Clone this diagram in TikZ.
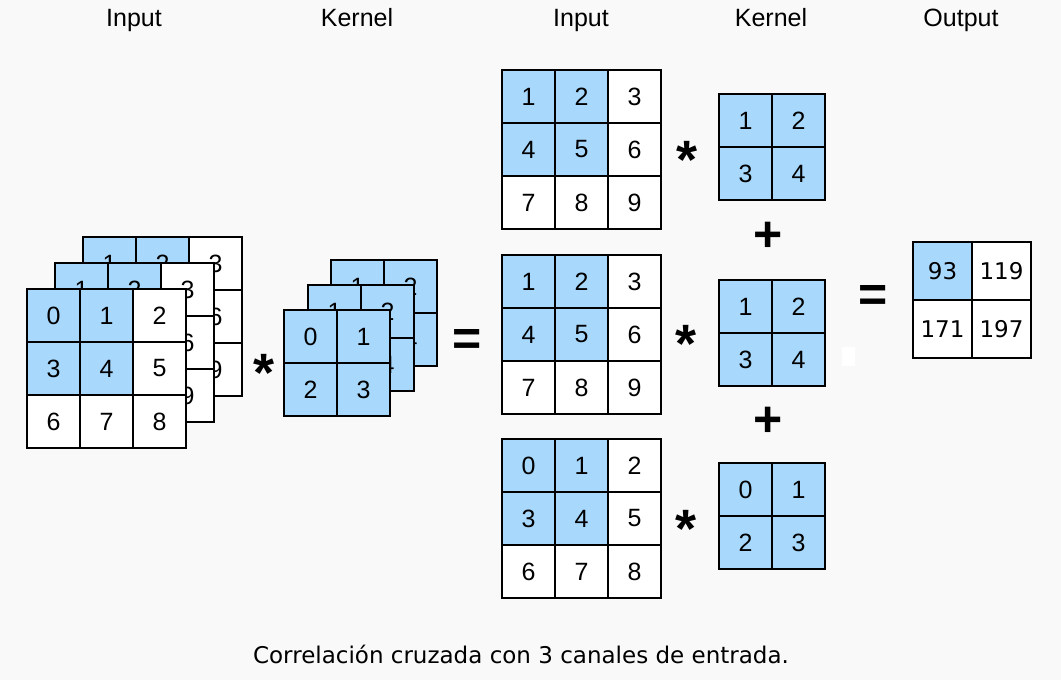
\documentclass[tikz,border=0pt]{standalone}
\usepackage{fontspec}
\setmainfont{Liberation Sans}
\newfontfamily\capfont{DejaVu Sans}
\definecolor{cellblue}{RGB}{168,216,252}
\definecolor{bgc}{RGB}{249,249,249}
\newcommand{\cellgrid}[8]{%
 \foreach \v [count=\i from 0] in {#8} {%
   \pgfmathtruncatemacro\rr{floor(\i/#4)}%
   \pgfmathtruncatemacro\cc{mod(\i,#4)}%
   \pgfmathtruncatemacro\isblue{and(\rr<#7,\cc<#7)}%
   \ifnum\isblue=1 \def\fc{cellblue}\else\def\fc{white}\fi
   \node[cellbox, fill=\fc, minimum width=#5, minimum height=#6] (#1-\rr-\cc) at ({#2+(\cc+0.5)*#5},{#3+(\rr+0.5)*#6}) {\v};
 }}
\begin{document}
\begin{tikzpicture}[x=1pt,y=-1pt,
  cellbox/.style={draw=black, line width=2.8pt, inner sep=0pt, font=\fontsize{25}{25}\selectfont},
  outbox/.style={cellbox, font=\capfont\fontsize{23}{23}\selectfont},
  title/.style={anchor=base, font=\fontsize{25}{25}\selectfont},
  opstar/.style={anchor=base, font=\bfseries\fontsize{54}{54}\selectfont},
  opsym/.style={font=\bfseries\fontsize{50}{50}\selectfont, inner sep=0pt},
  caption/.style={anchor=base, font=\capfont\fontsize{23}{23}\selectfont}]
\fill[bgc] (0,0) rectangle (1061,680);
\useasboundingbox (0,0) rectangle (1061,680);
% titles
\node[title] (t1) at (134,27) {Input};
\node[title] (t2) at (357,27) {Kernel};
\node[title] (t3) at (581,27) {Input};
\node[title] (t4) at (771,27) {Kernel};
\node[title] (t5) at (961,27) {Output};
% left stacked input
\cellgrid{inC}{83}{237}{3}{53}{53}{2}{1,2,3,4,5,6,7,8,9}
\cellgrid{inB}{55}{263}{3}{53}{53}{2}{1,2,3,4,5,6,7,8,9}
\cellgrid{inA}{27}{289}{3}{53}{53}{2}{0,1,2,3,4,5,6,7,8}
% stacked kernel
\cellgrid{kC}{331}{260}{2}{53}{53}{2}{1,2,3,4}
\cellgrid{kB}{308}{285}{2}{53}{53}{2}{1,2,3,4}
\cellgrid{kA}{284}{310}{2}{53}{53}{2}{0,1,2,3}
% right side
\cellgrid{rI1}{502}{70}{3}{53}{53}{2}{1,2,3,4,5,6,7,8,9}
\cellgrid{rI2}{502}{255}{3}{53}{53}{2}{1,2,3,4,5,6,7,8,9}
\cellgrid{rI3}{502}{439}{3}{53}{53}{2}{0,1,2,3,4,5,6,7,8}
\cellgrid{rK1}{719}{94}{2}{53}{53}{2}{1,2,3,4}
\cellgrid{rK2}{719}{280}{2}{53}{53}{2}{1,2,3,4}
\cellgrid{rK3}{719}{463}{2}{53}{53}{2}{0,1,2,3}
% output
\foreach \v [count=\i from 0] in {93,119,171,197} {%
  \pgfmathtruncatemacro\rr{floor(\i/2)}%
  \pgfmathtruncatemacro\cc{mod(\i,2)}%
  \ifnum\i=0 \def\fc{cellblue}\else\def\fc{white}\fi
  \node[outbox, fill=\fc, minimum width=59, minimum height=58] (out-\rr-\cc) at ({913+(\cc+0.5)*59},{242+(\rr+0.5)*58}) {\v};
}
% operators
\node[opstar] (s0) at (264,391) {*};
\node[opstar] (s1) at (687,178) {*};
\node[opstar] (s2) at (686,362) {*};
\node[opstar] (s3) at (686,547) {*};
\node[opsym] (e0) at (467,342) {=};
\node[opsym] (e1) at (873,298) {=};
\node[opsym] (p1) at (768,237) {+};
\node[opsym] (p2) at (768,422) {+};
\fill[white] (842,347) rectangle (855,366);
% caption
\node[caption] (cap) at (521,663) {Correlación cruzada con 3 canales de entrada.};
\end{tikzpicture}
\end{document}
